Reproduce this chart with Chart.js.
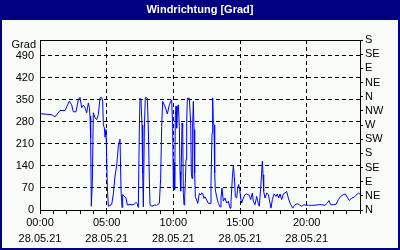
<!DOCTYPE html>
<html>
<head>
<meta charset="utf-8">
<title>Windrichtung</title>
<script src="https://cdn.jsdelivr.net/npm/chart.js@4/dist/chart.umd.min.js"></script>
<style>
body { margin: 0; background: #fff; }
</style>
</head>
<body>
<canvas id="myChart" width="400" height="250"></canvas>
<script>
// TIME OF DAY IN HOURS (28.05.21) AND WIND DIRECTION IN DEGREES
let hours = [
	0, 0.5, 0.875, 1.125, 1.5, 1.875, 2.2, 2.375, 2.5, 2.7, 2.875, 3, 3.125, 3.25, 3.375, 3.5, 3.625, 3.7, 3.75, 3.8,
	3.85, 3.925, 4, 4.125, 4.25, 4.375, 4.5, 4.625, 4.7, 4.75, 4.825, 4.875, 4.95, 5.05, 5.125, 5.375, 5.5, 5.625, 5.75, 5.875,
	6, 6.08, 6.15, 6.2, 6.3, 6.45, 6.55, 6.75, 6.9, 7.05, 7.2, 7.3, 7.375, 7.45, 7.5, 7.575, 7.65, 7.7, 7.75, 7.825,
	7.9, 8.05, 8.125, 8.2, 8.25, 8.4, 8.6, 8.75, 8.95, 9.05, 9.125, 9.2, 9.375, 9.55, 9.7, 9.8, 9.875, 9.95, 10, 10.05,
	10.1, 10.15, 10.2, 10.25, 10.3, 10.375, 10.45, 10.5, 10.55, 10.6, 10.65, 10.7, 10.75, 10.8, 10.85, 10.9, 10.95, 11, 11.05, 11.2,
	11.3, 11.35, 11.4, 11.45, 11.5, 11.55, 11.6, 11.65, 11.75, 11.83, 11.95, 12.05, 12.125, 12.2, 12.3, 12.375, 12.5, 12.625, 12.75, 12.825,
	12.9, 12.95, 13, 13.05, 13.1, 13.15, 13.25, 13.375, 13.5, 13.575, 13.65, 13.75, 13.875, 14, 14.125, 14.25, 14.325, 14.425, 14.5, 14.575,
	14.65, 14.75, 14.825, 14.9, 14.975, 15.05, 15.125, 15.25, 15.375, 15.5, 15.7, 15.8, 15.925, 16, 16.125, 16.25, 16.375, 16.45, 16.55, 16.625,
	16.675, 16.725, 16.775, 16.875, 17, 17.125, 17.25, 17.325, 17.425, 17.55, 17.7, 17.8, 17.9, 18, 18.125, 18.25, 18.375, 18.5, 18.625, 18.75,
	18.95, 19.125, 19.3, 19.45, 19.625, 19.8, 19.95, 20.125, 20.375, 20.625, 20.875, 21.125, 21.375, 21.55, 21.675, 21.8, 22, 22.2, 22.375, 22.55,
	22.75, 22.9, 23.05, 23.2, 23.375, 23.55, 23.7, 23.875, 24
];
let direction = [
	306, 304, 303, 296, 316, 316, 346, 334, 312, 312, 351, 358, 325, 333, 325, 309, 340, 325, 298, 229,
	12, 92, 309, 293, 287, 303, 356, 358, 346, 271, 261, 231, 256, 75, 12, 17, 51, 108, 140, 204,
	225, 60, 8, 49, 45, 38, 16, 18, 16, 18, 24, 20, 8, 257, 355, 350, 270, 117, 10, 257,
	358, 355, 257, 95, 16, 12, 16, 15, 21, 101, 265, 345, 329, 305, 334, 345, 350, 265, 70, 150,
	65, 300, 330, 260, 320, 334, 265, 122, 60, 150, 276, 265, 53, 16, 42, 85, 160, 276, 355, 355,
	276, 117, 100, 270, 345, 255, 117, 42, 32, 21, 53, 48, 54, 53, 37, 42, 32, 21, 21, 85,
	244, 356, 276, 270, 117, 64, 42, 21, 10, 38, 70, 28, 38, 22, 28, 6, 28, 102, 139, 107,
	43, 38, 70, 81, 65, 38, 22, 38, 49, 51, 47, 33, 54, 28, 17, 43, 20, 12, 70, 118,
	155, 112, 59, 38, 54, 49, 22, 6, 33, 51, 43, 51, 38, 51, 33, 51, 54, 59, 38, 22,
	6, 17, 20, 17, 12, 17, 15, 15, 15, 15, 17, 17, 15, 22, 30, 17, 17, 18, 33, 43,
	49, 51, 40, 30, 38, 40, 47, 54, 50
];
// AXIS TICKS
let gradTicks = [0, 70, 140, 210, 280, 350, 420, 490];
let compassTicks = [0, 45, 90, 135, 180, 225, 270, 315, 360, 405, 450, 495, 540];
let compassLabels = ["N", "NE", "E", "SE", "S", "SW", "W", "NW", "N", "NE", "E", "SE", "S"];
let hourTicks = [0, 1, 2, 3, 4, 5, 6, 7, 8, 9, 10, 11, 12, 13, 14, 15, 16, 17, 18, 19, 20, 21, 22, 23, 24];
let labelHours = [0, 5, 10, 15, 20];
let labelTimes = ["00:00", "05:00", "10:00", "15:00", "20:00"];
let dateLabel = "28.05.21";

let points = hours.map((h, i) => ({ x: h, y: direction[i] }));
let tickFont = { family: "Liberation Sans", size: 11 };

// BACKGROUND, NAVY FRAME, TOP LINE OF THE PLOT AND THE "Grad" CAPTION
const framePlugin = {
	id: "frame",
	beforeDraw(chart) {
		const c = chart.ctx;
		c.save();
		c.fillStyle = "#f8fcf8";
		c.fillRect(0, 0, chart.width, chart.height);
		c.fillStyle = "#000080";
		c.fillRect(0, 0, chart.width, 20);
		c.restore();
	},
	afterDraw(chart) {
		const c = chart.ctx;
		const a = chart.chartArea;
		c.save();
		c.strokeStyle = "#000";
		c.lineWidth = 1;
		c.beginPath();
		c.moveTo(a.left, a.top + 0.5);
		c.lineTo(a.right + 1, a.top + 0.5);
		c.stroke();
		c.strokeStyle = "#000080";
		c.lineWidth = 2;
		c.strokeRect(1, 1, chart.width - 2, chart.height - 2);
		c.fillStyle = "#000";
		c.font = "11px 'Liberation Sans'";
		c.textAlign = "right";
		c.textBaseline = "middle";
		c.fillText("Grad", 36, 45);
		c.restore();
	},
};

const ctx = document.getElementById("myChart").getContext("2d");
const myChart = new Chart(ctx, {
	type: "line",
	data: {
		datasets: [
			{
				data: points,
				borderColor: "#0000ff",
				borderWidth: 1,
				pointRadius: 0,
				tension: 0,
				fill: false,
			},
		],
	},
	options: {
		responsive: false,
		animation: false,
		devicePixelRatio: 1,
		layout: { padding: 0 },
		plugins: {
			legend: { display: false },
			tooltip: { enabled: false },
			title: {
				display: true,
				text: "Windrichtung [Grad]",
				color: "#fff",
				font: { family: "Liberation Sans", size: 11, weight: "bold" },
				padding: { top: 3, bottom: 23.8 },
			},
		},
		scales: {
			x: {
				type: "linear",
				min: 0,
				max: 24,
				afterBuildTicks: (s) => { s.ticks = hourTicks.map((v) => ({ value: v })); },
				afterFit: (s) => { s.height = 40; },
				ticks: {
					autoSkip: false,
					maxRotation: 0,
					padding: 1,
					color: "#000",
					font: { family: "Liberation Sans", size: 11, lineHeight: 1.45 },
					callback: (v) => {
						let k = labelHours.indexOf(v);
						return k < 0 ? "" : [labelTimes[k], dateLabel];
					},
				},
				grid: {
					color: (c) => (c.tick && c.tick.value % 5 === 0 ? "#000" : "rgba(0,0,0,0)"),
					tickColor: "#000",
					tickLength: 4,
				},
				border: { color: "#000", dash: [4, 3] },
			},
			y: {
				position: "left",
				min: 0,
				max: 540,
				afterBuildTicks: (s) => { s.ticks = gradTicks.map((v) => ({ value: v })); },
				afterFit: (s) => { s.width = 40; },
				ticks: { autoSkip: false, color: "#000", padding: 6, font: tickFont },
				grid: { color: "#000", drawTicks: false },
				border: { color: "#000", dash: [4, 3] },
			},
			y2: {
				position: "right",
				min: 0,
				max: 540,
				afterBuildTicks: (s) => { s.ticks = compassTicks.map((v) => ({ value: v })); },
				afterFit: (s) => { s.width = 40; },
				ticks: {
					autoSkip: false,
					color: "#000",
					padding: 2,
					font: tickFont,
					callback: (v, i) => compassLabels[i],
				},
				grid: { drawOnChartArea: false, color: "#000", tickLength: 3 },
				border: { color: "#000" },
			},
		},
	},
	plugins: [framePlugin],
});
</script>
</body>
</html>
